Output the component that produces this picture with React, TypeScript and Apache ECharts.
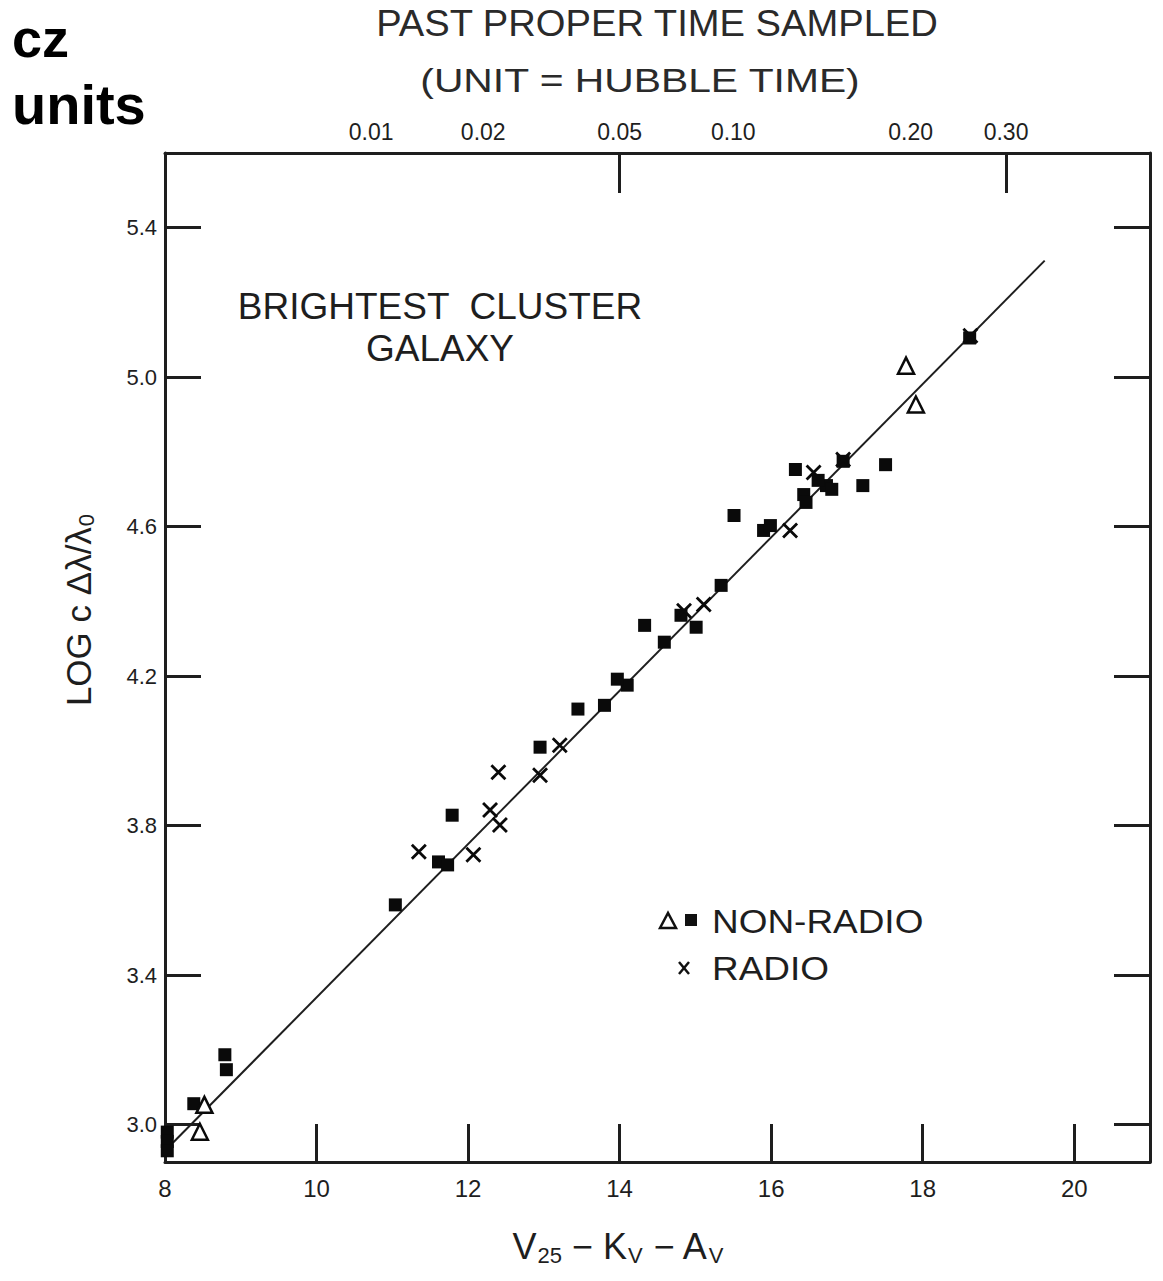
import React, { useEffect, useRef } from "react";
import * as echarts from "echarts";

// ---- data ----
const nonRadioFilled: number[][] = [
  [17.51, 4.766], [17.21, 4.71], [16.73, 4.71], [16.32, 4.753], [16.43, 4.686],
  [16.46, 4.665], [16.62, 4.724], [16.8, 4.7], [16.95, 4.775], [18.62, 5.105],
  [15.51, 4.63], [15.9, 4.59], [15.99, 4.603], [15.34, 4.443], [14.81, 4.363],
  [15.01, 4.331], [14.33, 4.336], [14.59, 4.291], [14.1, 4.176], [13.97, 4.192],
  [13.8, 4.122], [13.45, 4.112], [12.95, 4.01], [11.79, 3.828], [11.61, 3.703],
  [11.73, 3.695], [11.04, 3.588], [8.79, 3.187], [8.81, 3.147], [8.38, 3.056],
  [8.03, 2.98], [8.03, 2.955], [8.03, 2.93],
];
const nonRadioOpen: number[][] = [
  [17.78, 5.031], [17.91, 4.927], [8.52, 3.053], [8.46, 2.981],
];
const radio: number[][] = [
  [18.63, 5.111], [16.95, 4.78], [16.56, 4.745], [16.25, 4.59], [15.11, 4.392],
  [14.85, 4.375], [13.21, 4.015], [12.95, 3.935], [12.4, 3.943], [12.29, 3.842],
  [12.42, 3.802], [12.07, 3.722], [11.35, 3.73],
];
const fitLine: number[][] = [[8.0, 2.93], [19.61, 5.312]];

const xTickValues = [8, 10, 12, 14, 16, 18, 20];
const xTickMarks = [10, 12, 14, 16, 18, 20];
const yTickValues = [3.0, 3.4, 3.8, 4.2, 4.6, 5.0, 5.4];
const topTickLabels = ["0.01", "0.02", "0.05", "0.10", "0.20", "0.30"];
const topTickPositions = [10.72, 12.2, 14.0, 15.5, 17.84, 19.1];
const topTickMarks = [14.0, 19.1];

const INK = "#1e1e1e";
const FONT = "Liberation Sans";

export default function App() {
  const ref = useRef<HTMLDivElement>(null);

  useEffect(() => {
    if (!ref.current) return;
    const chart = echarts.init(ref.current, undefined, { renderer: "svg" });

    const axisLine = { show: true, lineStyle: { color: INK, width: 3 } };
    const tickStyle = { color: INK, width: 3 };

    const option: any = {
      animation: false,
      backgroundColor: "#ffffff",
      grid: { left: 165, top: 153, width: 985, height: 1009, containLabel: false },
      xAxis: [
        {
          type: "value",
          position: "bottom",
          min: 8,
          max: 21,
          axisLine,
          splitLine: { show: false },
          axisTick: { show: true, inside: true, length: 38, lineStyle: tickStyle, customValues: xTickMarks },
          axisLabel: {
            customValues: xTickValues,
            margin: 14,
            color: INK,
            fontFamily: FONT,
            fontSize: 24,
            formatter: (v: number) => String(v),
          },
        },
        {
          type: "value",
          position: "top",
          min: 8,
          max: 21,
          axisLine,
          splitLine: { show: false },
          axisTick: { show: true, inside: true, length: 40, lineStyle: tickStyle, customValues: topTickMarks },
          axisLabel: {
            customValues: topTickPositions,
            margin: 10,
            color: INK,
            fontFamily: FONT,
            fontSize: 23,
            formatter: (v: number) => {
              const i = topTickPositions.findIndex((p) => Math.abs(p - v) < 1e-6);
              return i >= 0 ? topTickLabels[i] : "";
            },
          },
        },
      ],
      yAxis: [
        {
          type: "value",
          position: "left",
          min: 2.9,
          max: 5.6,
          axisLine,
          splitLine: { show: false },
          axisTick: { show: true, inside: true, length: 36, lineStyle: tickStyle, customValues: yTickValues },
          axisLabel: {
            customValues: yTickValues,
            margin: 8,
            color: INK,
            fontFamily: FONT,
            fontSize: 22,
            formatter: (v: number) => v.toFixed(1),
          },
        },
        {
          type: "value",
          position: "right",
          min: 2.9,
          max: 5.6,
          axisLine,
          splitLine: { show: false },
          axisTick: { show: true, inside: true, length: 36, lineStyle: tickStyle, customValues: yTickValues },
          axisLabel: { show: false },
        },
      ],
      series: [
        {
          name: "fit",
          type: "line",
          data: fitLine,
          showSymbol: false,
          symbol: "none",
          lineStyle: { color: INK, width: 2 },
          z: 1,
          silent: true,
        },
        {
          name: "NON-RADIO (filled)",
          type: "scatter",
          data: nonRadioFilled,
          symbol: "rect",
          symbolSize: 13,
          itemStyle: { color: "#0a0a0a", opacity: 1 },
          z: 3,
        },
        {
          name: "NON-RADIO (open)",
          type: "scatter",
          data: nonRadioOpen,
          symbol: "triangle",
          symbolSize: 16,
          itemStyle: { color: "#ffffff", borderColor: "#0a0a0a", borderWidth: 2.5, opacity: 1 },
          z: 4,
        },
        {
          name: "RADIO",
          type: "scatter",
          data: radio,
          symbol: "path://M0,0L10,10M10,0L0,10",
          symbolSize: 14,
          itemStyle: { color: "none", borderColor: "#0a0a0a", borderWidth: 2.8, opacity: 1 },
          z: 5,
        },
      ],
      graphic: [
        {
          type: "text",
          x: 12,
          y: 38,
          style: { text: "cz", font: `bold 54px ${FONT}`, fill: "#000", textAlign: "left", textVerticalAlign: "middle" },
        },
        {
          type: "text",
          x: 12,
          y: 104,
          style: { text: "units", font: `bold 56px ${FONT}`, fill: "#000", textAlign: "left", textVerticalAlign: "middle" },
        },
        {
          type: "text",
          x: 657,
          y: 23,
          scaleX: 1.06,
          style: { text: "PAST PROPER TIME SAMPLED", font: `36px ${FONT}`, fill: "#2a2a2a", textAlign: "center", textVerticalAlign: "middle" },
        },
        {
          type: "text",
          x: 640,
          y: 80,
          scaleX: 1.2,
          style: { text: "(UNIT = HUBBLE TIME)", font: `34px ${FONT}`, fill: "#2a2a2a", textAlign: "center", textVerticalAlign: "middle" },
        },
        {
          type: "text",
          x: 440,
          y: 306,
          style: { text: "BRIGHTEST  CLUSTER", font: `37px ${FONT}`, fill: INK, textAlign: "center", textVerticalAlign: "middle" },
        },
        {
          type: "text",
          x: 440,
          y: 348,
          style: { text: "GALAXY", font: `37px ${FONT}`, fill: INK, textAlign: "center", textVerticalAlign: "middle" },
        },
        // legend
        {
          type: "polygon",
          shape: { points: [[660, 928], [668, 913], [676, 928]] },
          style: { fill: "#fff", stroke: "#111", lineWidth: 2.5 },
        },
        { type: "rect", shape: { x: 685, y: 914, width: 12, height: 12 }, style: { fill: "#111" } },
        {
          type: "text",
          x: 712,
          y: 921,
          scaleX: 1.12,
          style: { text: "NON-RADIO", font: `33px ${FONT}`, fill: INK, textAlign: "left", textVerticalAlign: "middle" },
        },
        { type: "line", shape: { x1: 679, y1: 962, x2: 689, y2: 974 }, style: { stroke: "#111", lineWidth: 2.5 } },
        { type: "line", shape: { x1: 689, y1: 962, x2: 679, y2: 974 }, style: { stroke: "#111", lineWidth: 2.5 } },
        {
          type: "text",
          x: 712,
          y: 968,
          scaleX: 1.12,
          style: { text: "RADIO", font: `33px ${FONT}`, fill: INK, textAlign: "left", textVerticalAlign: "middle" },
        },
        // axis names
        {
          type: "text",
          x: 78,
          y: 610,
          rotation: Math.PI / 2,
          style: {
            text: "{m|LOG c Δλ/λ}{s|0}",
            textAlign: "center",
            textVerticalAlign: "middle",
            fill: INK,
            rich: {
              m: { fontFamily: FONT, fontSize: 35, color: INK },
              s: { fontFamily: FONT, fontSize: 22, color: INK, padding: [16, 0, 0, 1] },
            },
          },
        },
        {
          type: "text",
          x: 618,
          y: 1246,
          style: {
            text: "{m|V}{s|25}{m| − K}{s|V}{m| − A}{s|V}",
            textAlign: "center",
            textVerticalAlign: "middle",
            fill: INK,
            rich: {
              m: { fontFamily: FONT, fontSize: 36, color: INK },
              s: { fontFamily: FONT, fontSize: 22, color: INK, padding: [18, 0, 0, 1] },
            },
          },
        },
      ],
    };

    chart.setOption(option);
    return () => chart.dispose();
  }, []);

  return (
    <div
      ref={ref}
      style={{ position: "absolute", left: 0, top: 0, width: 1163, height: 1281, background: "#fff" }}
    />
  );
}
